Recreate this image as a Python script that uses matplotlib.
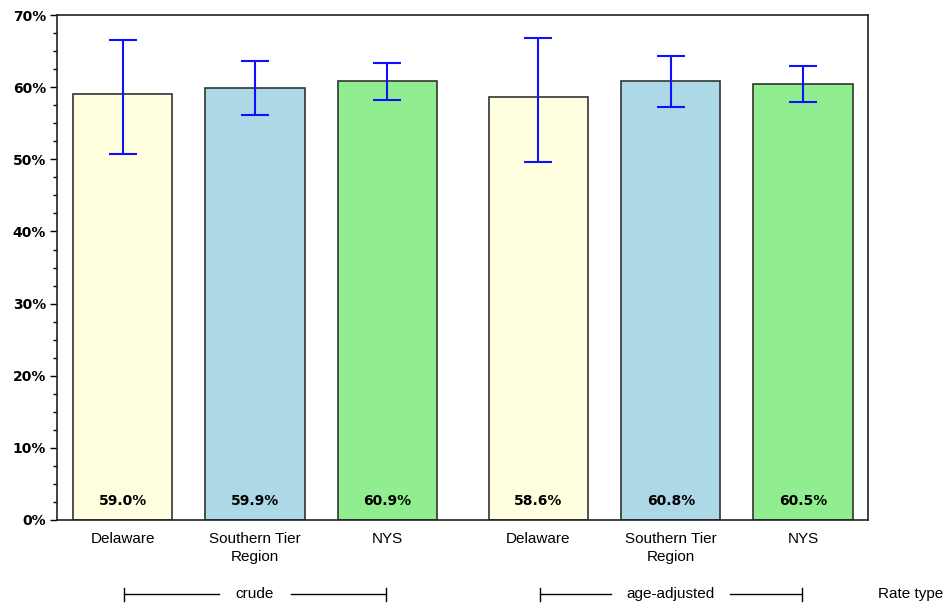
import numpy as np
import matplotlib.pyplot as plt
from matplotlib.ticker import MultipleLocator, FuncFormatter
from matplotlib.transforms import blended_transform_factory

groups = ['crude', 'age-adjusted']
areas = ['Delaware', 'Southern Tier\nRegion', 'NYS']
colors = ['#FFFFE0', '#ADD8E6', '#90EE90']

rates = [59.0, 59.9, 60.9, 58.6, 60.8, 60.5]
lower = [50.8, 56.1, 58.3, 49.7, 57.2, 57.9]
upper = [66.5, 63.6, 63.3, 66.8, 64.3, 62.9]

group_gap = 1.14
pos = np.array([0, 1, 2, group_gap + 2, group_gap + 3, group_gap + 4])

fig = plt.figure(figsize=(9.5, 6.05), dpi=100)
ax = fig.add_axes([0.06, 0.1405, 0.8537, 0.8345])

rates = np.array(rates)
yerr = [rates - np.array(lower), np.array(upper) - rates]
ax.bar(pos, rates, width=0.75, color=colors * 2, edgecolor='#333333', linewidth=1.2, zorder=2)
ax.errorbar(pos, rates, yerr=yerr, fmt='none', ecolor='#1010ff', elinewidth=1.5,
            capsize=10, capthick=1.5, zorder=3)

for x, r in zip(pos, rates):
    ax.text(x, 2.6, f'{r:.1f}%', ha='center', va='center', fontsize=10,
            fontweight='bold', zorder=4)

ax.set_xlim(-0.496, 5.63)
ax.set_ylim(0, 70)
ax.yaxis.set_major_locator(MultipleLocator(10))
ax.yaxis.set_minor_locator(MultipleLocator(2.5))
ax.yaxis.set_major_formatter(FuncFormatter(lambda v, p: f'{v:.0f}%'))
ax.tick_params(axis='y', which='major', length=5, width=1, labelsize=10, pad=3)
ax.tick_params(axis='y', which='minor', length=3, width=1)
for lab in ax.get_yticklabels():
    lab.set_fontweight('bold')

ax.set_xticks(pos)
ax.set_xticklabels(areas * 2, fontsize=11, family='Liberation Sans', linespacing=1.3)
ax.tick_params(axis='x', length=0, pad=9)

for s in ax.spines.values():
    s.set_color('#222222')
    s.set_linewidth(1.2)

# group brackets under the category labels
tr = blended_transform_factory(ax.transData, fig.transFigure)
yb = 1 - 594 / 605
th = 6.5 / 605
for i, g in enumerate(groups):
    x0 = pos[i * 3] + 0.01
    x1 = pos[i * 3 + 2] - 0.01
    xm = (x0 + x1) / 2
    half = 0.27 if g == 'crude' else 0.45
    ax.plot([x0, xm - half], [yb, yb], color='black', lw=1, transform=tr, clip_on=False)
    ax.plot([xm + half, x1], [yb, yb], color='black', lw=1, transform=tr, clip_on=False)
    ax.plot([x0, x0], [yb - th, yb + th], color='black', lw=1, transform=tr, clip_on=False)
    ax.plot([x1, x1], [yb - th, yb + th], color='black', lw=1, transform=tr, clip_on=False)
    ax.text(xm, yb, g, ha='center', va='center', fontsize=11, family='Liberation Sans',
            transform=tr)

fig.text(0.924, yb, 'Rate type', ha='left', va='center', fontsize=11, family='Liberation Sans')

fig.savefig('out.png', dpi=100)
